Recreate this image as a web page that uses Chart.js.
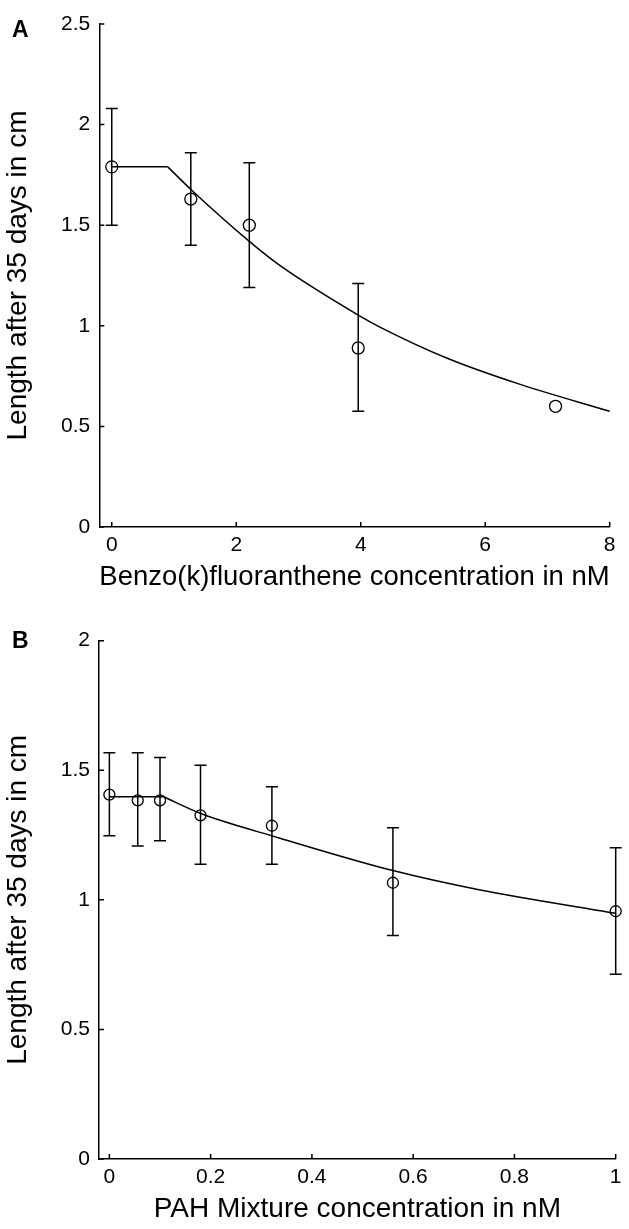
<!DOCTYPE html>
<html>
<head>
<meta charset="utf-8">
<script src="https://cdn.jsdelivr.net/npm/chart.js@4.4.0/dist/chart.umd.min.js"></script>
<style>
  html, body { margin: 0; padding: 0; background: #fff; overflow: hidden; }
  body { width: 629px; height: 1229px; position: relative; }
  canvas { position: absolute; left: 0; }
  #chartA { top: 0; }
  #chartB { top: 615px; }
  .panel-tag { position: absolute; left: 12px; font: bold 23px Arial, "Liberation Sans", sans-serif; line-height: 23px; color: #000; }
</style>
</head>
<body>
<canvas id="chartA" width="629" height="615"></canvas>
<canvas id="chartB" width="629" height="630"></canvas>
<div class="panel-tag" style="top:18px">A</div>
<div class="panel-tag" style="top:629px">B</div>
<script>
const FONT = 'Arial, "Liberation Sans", sans-serif';

// Panel A - Benzo(k)fluoranthene
const concA = [0, 1.27, 2.21, 3.96, 7.13];
const lenA = [1.79, 1.63, 1.50, 0.89, 0.60];
const lenAHigh = [2.08, 1.86, 1.81, 1.21, null];
const lenALow = [1.50, 1.40, 1.19, 0.575, null];
const fitAx = [0, 0.9, 1.28, 2.22, 2.7, 3.96, 4.3, 5.38, 6.55, 8];
const fitAy = [1.79, 1.79, 1.675, 1.417, 1.30, 1.053, 0.995, 0.84, 0.71, 0.575];
const xTicksA = [0, 2, 4, 6, 8];
const yTicksA = [0, 0.5, 1, 1.5, 2, 2.5];

// Panel B - PAH mixture
const concB = [0, 0.056, 0.10, 0.18, 0.321, 0.56, 1.0];
const lenB = [1.406, 1.384, 1.384, 1.326, 1.286, 1.066, 0.956];
const lenBHigh = [1.568, 1.568, 1.549, 1.519, 1.436, 1.278, 1.201];
const lenBLow = [1.247, 1.208, 1.228, 1.137, 1.137, 0.862, 0.713];
const fitBx = [0, 0.107, 0.182, 0.337, 0.56, 0.73, 1.0];
const fitBy = [1.398, 1.398, 1.332, 1.238, 1.113, 1.039, 0.948];
const xTicksB = [0, 0.2, 0.4, 0.6, 0.8, 1];
const yTicksB = [0, 0.5, 1, 1.5, 2];

// error bars + inward tick marks, drawn through the chart scales
function markPlugin(xs, hi, lo, xTicks, yTicks, cap) {
    return {
        id: 'marks',
        afterDatasetsDraw(chart) {
            const {ctx, scales: {x, y}} = chart;
            ctx.save();
            ctx.strokeStyle = '#000';
            ctx.lineWidth = 1.5;
            xs.forEach((v, i) => {
                if (hi[i] == null) return;
                const px = x.getPixelForValue(v);
                const pTop = y.getPixelForValue(hi[i]);
                const pBot = y.getPixelForValue(lo[i]);
                ctx.beginPath();
                ctx.moveTo(px, pTop); ctx.lineTo(px, pBot);
                ctx.moveTo(px - cap, pTop); ctx.lineTo(px + cap, pTop);
                ctx.moveTo(px - cap, pBot); ctx.lineTo(px + cap, pBot);
                ctx.stroke();
            });
            ctx.restore();
        },
        afterDraw(chart) {
            const {ctx, chartArea, scales: {x, y}} = chart;
            ctx.save();
            ctx.strokeStyle = '#000';
            ctx.lineWidth = 1.5;
            ctx.beginPath();
            xTicks.forEach(v => {
                const px = x.getPixelForValue(v);
                ctx.moveTo(px, chartArea.bottom); ctx.lineTo(px, chartArea.bottom - 5);
            });
            yTicks.forEach(v => {
                const py = y.getPixelForValue(v);
                ctx.moveTo(chartArea.left, py); ctx.lineTo(chartArea.left + 5, py);
            });
            ctx.stroke();
            ctx.restore();
        }
    };
}

function buildPanel(id, p) {
    const points = p.xs.map((v, i) => ({x: v, y: p.ys[i]}));
    const curve = p.fitX.map((v, i) => ({x: v, y: p.fitY[i]}));
    return new Chart(document.getElementById(id), {
        type: 'scatter',
        data: {
            datasets: [
                { type: 'line', data: curve.slice(0, 2), borderColor: '#000', borderWidth: 1.5, pointRadius: 0, tension: 0, fill: false, clip: false },
                { type: 'line', data: curve.slice(1), borderColor: '#000', borderWidth: 1.5, pointRadius: 0, cubicInterpolationMode: 'monotone', fill: false, clip: false },
                { data: points, pointStyle: 'circle', pointRadius: p.r, borderColor: '#000', borderWidth: 1.3, backgroundColor: 'rgba(0,0,0,0)', clip: false }
            ]
        },
        options: {
            responsive: false,
            animation: false,
            events: [],
            layout: { padding: p.pad },
            plugins: { legend: { display: false }, tooltip: { enabled: false } },
            scales: {
                x: {
                    type: 'linear', min: p.xMin, max: p.xMax,
                    grid: { display: false, drawTicks: false },
                    border: { display: true, color: '#000', width: 1.5 },
                    afterBuildTicks: s => { s.ticks = p.xTicks.map(v => ({value: v})); },
                    afterFit: s => { s.height = p.xH; },
                    ticks: { color: '#000', padding: 6, autoSkip: false, maxRotation: 0, font: { family: FONT, size: 21 }, callback: v => String(v) },
                    title: { display: true, text: p.xTitle, color: '#000', font: { family: FONT, size: 28 }, padding: { top: 0, bottom: p.xTitlePad } }
                },
                y: {
                    type: 'linear', min: p.yMin, max: p.yMax,
                    grid: { display: false, drawTicks: false },
                    border: { display: true, color: '#000', width: 1.5 },
                    afterBuildTicks: s => { s.ticks = p.yTicks.map(v => ({value: v})); },
                    afterFit: s => { s.width = p.yW; },
                    ticks: { color: '#000', padding: 9, font: { family: FONT, size: 21 }, callback: v => String(v) },
                    title: { display: true, text: 'Length after 35 days in cm', color: '#000', font: { family: FONT, size: 28 }, padding: { top: 1.5, bottom: 0 } }
                }
            }
        },
        plugins: [markPlugin(p.xs, p.hi, p.lo, p.xTicks, p.yTicks, 6)]
    });
}

buildPanel('chartA', {
    xs: concA, ys: lenA, hi: lenAHigh, lo: lenALow,
    fitX: fitAx, fitY: fitAy,
    xTicks: xTicksA, yTicks: yTicksA,
    xMin: -0.2, xMax: 8, yMin: 0, yMax: 2.5,
    r: 6,
    pad: { left: 0, top: 24, right: 19.3, bottom: 0 },
    xH: 88, yW: 99.3, xTitlePad: 21.2,
    xTitle: 'Benzo(k)fluoranthene concentration in nM'
});

buildPanel('chartB', {
    xs: concB, ys: lenB, hi: lenBHigh, lo: lenBLow,
    fitX: fitBx, fitY: fitBy,
    xTicks: xTicksB, yTicks: yTicksB,
    xMin: -0.0205, xMax: 1, yMin: 0, yMax: 2,
    r: 5.5,
    pad: { left: 0, top: 25.7, right: 13.3, bottom: 0 },
    xH: 86, yW: 99, xTitlePad: 19.2,
    xTitle: 'PAH Mixture concentration in nM'
});
</script>
</body>
</html>
